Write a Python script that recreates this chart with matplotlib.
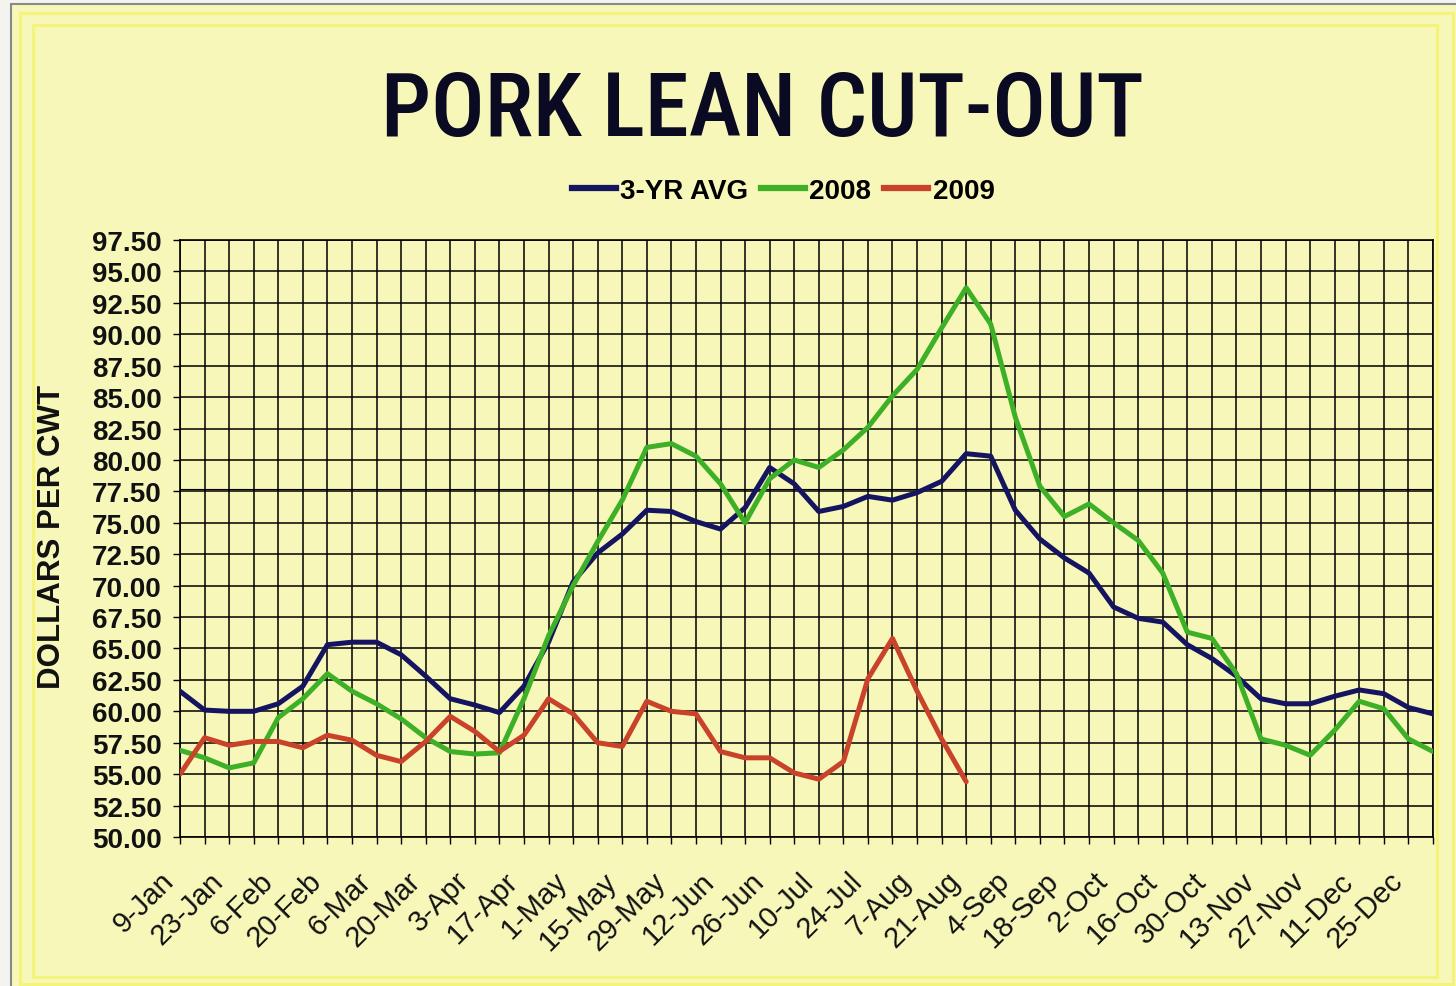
import matplotlib
matplotlib.use("Agg")
import matplotlib.pyplot as plt
from matplotlib import font_manager
from matplotlib.patches import Rectangle
from matplotlib.lines import Line2D
from matplotlib.transforms import ScaledTranslation
import numpy as np

# ---------------- data ----------------
week_labels = ["9-Jan", "23-Jan", "6-Feb", "20-Feb", "6-Mar", "20-Mar", "3-Apr", "17-Apr",
               "1-May", "15-May", "29-May", "12-Jun", "26-Jun", "10-Jul", "24-Jul", "7-Aug",
               "21-Aug", "4-Sep", "18-Sep", "2-Oct", "16-Oct", "30-Oct", "13-Nov", "27-Nov",
               "11-Dec", "25-Dec"]

avg_3yr = [61.6, 60.1, 60.0, 60.0, 60.6, 62.0, 65.3, 65.5, 65.5, 64.5,
           62.8, 61.0, 60.5, 59.9, 62.0, 65.5, 70.3, 72.6, 74.1, 76.0,
           75.9, 75.1, 74.5, 76.2, 79.4, 78.1, 75.9, 76.3, 77.1, 76.8,
           77.4, 78.3, 80.5, 80.3, 76.0, 73.7, 72.2, 71.0, 68.3, 67.4,
           67.1, 65.3, 64.2, 62.8, 61.0, 60.6, 60.6, 61.2, 61.7, 61.4,
           60.3, 59.8]

y2008 = [56.9, 56.3, 55.5, 55.9, 59.5, 61.0, 63.0, 61.6, 60.6, 59.4,
         57.9, 56.8, 56.6, 56.7, 61.0, 66.0, 70.0, 73.5, 76.8, 81.0,
         81.3, 80.3, 78.1, 75.0, 78.5, 80.0, 79.4, 80.8, 82.6, 85.1,
         87.2, 90.5, 93.7, 90.8, 83.4, 77.9, 75.5, 76.5, 75.0, 73.6,
         71.0, 66.3, 65.8, 63.0, 57.8, 57.3, 56.5, 58.5, 60.8, 60.2,
         57.8, 56.8]

y2009 = [55.0, 57.9, 57.3, 57.6, 57.6, 57.1, 58.1, 57.7, 56.5, 56.0,
         57.6, 59.6, 58.4, 56.8, 58.1, 61.0, 59.8, 57.5, 57.2, 60.8,
         60.0, 59.8, 56.8, 56.3, 56.3, 55.1, 54.6, 56.0, 62.6, 65.8,
         61.6, 57.8, 54.4]

y_ticks = [50.0, 52.5, 55.0, 57.5, 60.0, 62.5, 65.0, 67.5, 70.0, 72.5, 75.0, 77.5,
           80.0, 82.5, 85.0, 87.5, 90.0, 92.5, 95.0, 97.5]

series_names = ["3-YR AVG", "2008", "2009"]
series_colors = ["#141460", "#3DB027", "#C9432B"]

# ---------------- styling ----------------
W, H = 1456, 987
BG = "#F7F7BA"
base_family = ["Liberation Sans", "DejaVu Sans"]
plt.rcParams["font.family"] = base_family

# choose a condensed face for the title if one is installed
fonts = font_manager.fontManager.ttflist
title_kw = None
for f in fonts:
    if f.name == "Liberation Sans Narrow":
        title_kw = dict(family=["Liberation Sans Narrow"], fontsize=66, fontweight="normal")
        break
if title_kw is None:
    for f in fonts:
        if f.name == "Roboto Condensed":
            title_kw = dict(family=["Roboto Condensed"], fontsize=64, fontweight="medium")
            break
if title_kw is None:
    for f in fonts:
        if f.name == "DejaVu Sans" and str(f.stretch) in ("condensed", "semi-condensed"):
            title_kw = dict(family=["DejaVu Sans"], fontstretch="condensed",
                            fontsize=58, fontweight="normal")
            break
if title_kw is None:
    title_kw = dict(family=base_family, fontsize=56, fontweight="normal")

fig = plt.figure(figsize=(W / 100, H / 100), dpi=100)
fig.patch.set_facecolor("#F3F3F0")


def fx(px):
    return px / W


def fy(py):
    return 1 - py / H


# chart-area background with grey border
fig.patches.append(Rectangle((fx(11), fy(987 + 5)), fx(1456 + 10 - 11), (987 + 5 - 5) / H,
                             transform=fig.transFigure, facecolor=BG,
                             edgecolor="#8A8A8A", linewidth=1.5, zorder=-2))
# faint bright-yellow inner frame lines
for inset_l, inset_t, inset_r, inset_b in [(20, 14, 1453, 985), (33, 26, 1437, 978)]:
    fig.patches.append(Rectangle((fx(inset_l), fy(inset_b)), fx(inset_r - inset_l),
                                 (inset_b - inset_t) / H, transform=fig.transFigure,
                                 facecolor="none", edgecolor="#F4F47A", linewidth=2.2,
                                 zorder=-1))

ax = fig.add_axes([fx(180), fy(838), fx(1433 - 180), (838 - 241) / H])
ax.set_zorder(1)
ax.set_facecolor(BG)

n_weeks = len(avg_3yr)
weeks = np.arange(n_weeks)

ax.set_xlim(0, n_weeks - 1)
ax.set_ylim(y_ticks[0], y_ticks[-1])

ax.set_xticks(np.arange(0, 2 * len(week_labels), 2))
ax.set_xticklabels(week_labels)
ax.set_xticks(np.arange(1, n_weeks, 2), minor=True)
ax.set_yticks(y_ticks)
ax.set_yticklabels([f"{v:.2f}" for v in y_ticks])

ax.grid(True, which="both", axis="x", color="#000000", linewidth=1.1, zorder=1)
ax.grid(True, which="major", axis="y", color="#000000", linewidth=1.1, zorder=1)
ax.axhline(77.72, color="#000000", linewidth=0.8, zorder=1)
ax.set_axisbelow(True)

ax.tick_params(axis="both", which="both", direction="out", length=5, width=1.0,
               color="black")
ax.tick_params(axis="y", pad=8, labelsize=20)
ax.tick_params(axis="x", which="major", pad=16, labelsize=21)

for lab in ax.get_yticklabels():
    lab.set_fontweight("bold")
    lab.set_color("#111111")

offset = ScaledTranslation(-20 / 100, 0, fig.dpi_scale_trans)
for lab in ax.get_xticklabels():
    lab.set_rotation(45)
    lab.set_ha("right")
    lab.set_va("top")
    lab.set_rotation_mode("anchor")
    lab.set_color("#111111")
    lab.set_transform(lab.get_transform() + offset)

for sp in ax.spines.values():
    sp.set_color("black")
    sp.set_linewidth(1.2)

data = [avg_3yr, y2008, y2009]
for vals, name, col in zip(data, series_names, series_colors):
    ax.plot(weeks[:len(vals)], vals, color=col, linewidth=3.6, label=name,
            solid_joinstyle="round", solid_capstyle="round", zorder=3)

# title
fig.text(fx(762), fy(112), "PORK LEAN CUT-OUT", ha="center", va="center",
         color="#0A0A22", **title_kw)

# legend
handles = [Line2D([0], [0], color=c, linewidth=4.5) for c in series_colors]
fig.legend(handles, series_names, loc="center", bbox_to_anchor=(fx(783), fy(192)),
           ncol=3, frameon=False, handlelength=1.6, handletextpad=0.15,
           columnspacing=0.45, prop=dict(family=base_family, weight="bold", size=20))

# y-axis label
fig.text(fx(52), fy(537), "DOLLARS PER CWT", rotation=90, ha="center", va="center",
         fontsize=22.5, fontweight="bold", color="#111111")

fig.savefig("out.png", dpi=100, facecolor=fig.get_facecolor())
